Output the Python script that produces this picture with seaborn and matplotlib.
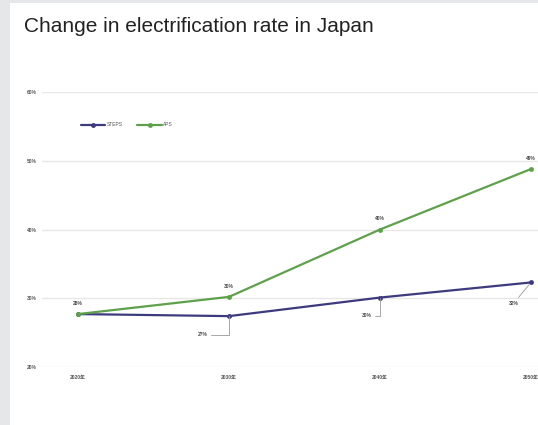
import pandas as pd
import matplotlib.pyplot as plt
import seaborn as sns
from matplotlib.patches import Rectangle

# Chart values
years = ['2020年', '2030年', '2040年', '2050年']
steps = [27.7, 27.4, 30.1, 32.3]
aps = [27.7, 30.2, 40.0, 48.8]
steps_labels = ['', '27%', '30%', '32%']
aps_labels = ['28%', '30%', '40%', '49%']
y_ticks = [20, 30, 40, 50, 60]

df = pd.DataFrame({
    'year': years * 2,
    'rate': steps + aps,
    'scenario': ['STEPS'] * 4 + ['APS'] * 4,
})

sns.set_style('white')
plt.rcParams['font.family'] = ['Liberation Sans', 'Noto Sans CJK JP', 'DejaVu Sans']

fig = plt.figure(figsize=(5.38, 4.25), dpi=100)
fig.patch.set_facecolor('#e6e7e9')
# white card behind the chart
fig.patches.append(Rectangle((10 / 538, 0), 1, 1 - 3 / 425, transform=fig.transFigure,
                             facecolor='white', edgecolor='none', zorder=-5))

fig.text(24 / 538, 1 - 27 / 425, 'Change in electrification rate in Japan',
         fontsize=15, color='#222222', va='center', ha='left')

ax = fig.add_axes([42 / 538, 1 - 367 / 425, 496 / 538, 275 / 425])
ax.set_facecolor('none')

colors = {'STEPS': '#3d3b7e', 'APS': '#5da24a'}
sns.lineplot(data=df, x='year', y='rate', hue='scenario', palette=colors,
             marker='o', markersize=3.5, markeredgewidth=0, linewidth=1.6,
             sort=False, ax=ax)

ax.set_xlim(-0.238, 3.046)
ax.set_ylim(20, 60)
ax.set_yticks(y_ticks)
ax.set_yticklabels([f'{v}%' for v in y_ticks])
ax.set_xlabel('')
ax.set_ylabel('')
for s in ax.spines.values():
    s.set_visible(False)
ax.grid(axis='y', color='#ebe6e6', linewidth=1.0)
ax.set_axisbelow(True)
ax.tick_params(axis='both', length=0, labelsize=3.5, labelcolor='#555555')
ax.tick_params(axis='y', pad=4)
ax.tick_params(axis='x', pad=6)
for t in ax.get_xticklabels() + ax.get_yticklabels():
    t.set_fontweight('bold')

handles, labels = ax.get_legend_handles_labels()
ax.legend(handles, labels, loc='center left', bbox_to_anchor=(0.07, 0.88),
          ncol=2, frameon=False, fontsize=3.5, handlelength=5,
          handletextpad=0.3, columnspacing=3, labelcolor='#555555')

# data labels: APS above, STEPS below with leader lines
for i, lab in enumerate(aps_labels):
    ax.annotate(lab, (i, aps[i]), xytext=(0, 6), textcoords='offset points',
                ha='center', va='bottom', fontsize=3.5, color='#444444',
                fontweight='bold')

leader = dict(arrowstyle='-', color='#999999', lw=0.6,
              connectionstyle='angle,angleA=0,angleB=90', shrinkA=0, shrinkB=0)
offsets = [None, (-15, -13.5), (-6, -13)]
for i in (1, 2):
    ax.annotate(steps_labels[i], (i, steps[i]), xytext=offsets[i],
                textcoords='offset points', ha='right', va='center',
                fontsize=3.5, color='#444444', fontweight='bold',
                arrowprops=leader)
ax.annotate(steps_labels[3], (3, steps[3]), xytext=(-9, -15),
            textcoords='offset points', ha='right', va='center',
            fontsize=3.5, color='#444444', fontweight='bold',
            arrowprops=dict(arrowstyle='-', color='#999999', lw=0.6,
                            shrinkA=0, shrinkB=2))

fig.savefig('out.png', dpi=100)
